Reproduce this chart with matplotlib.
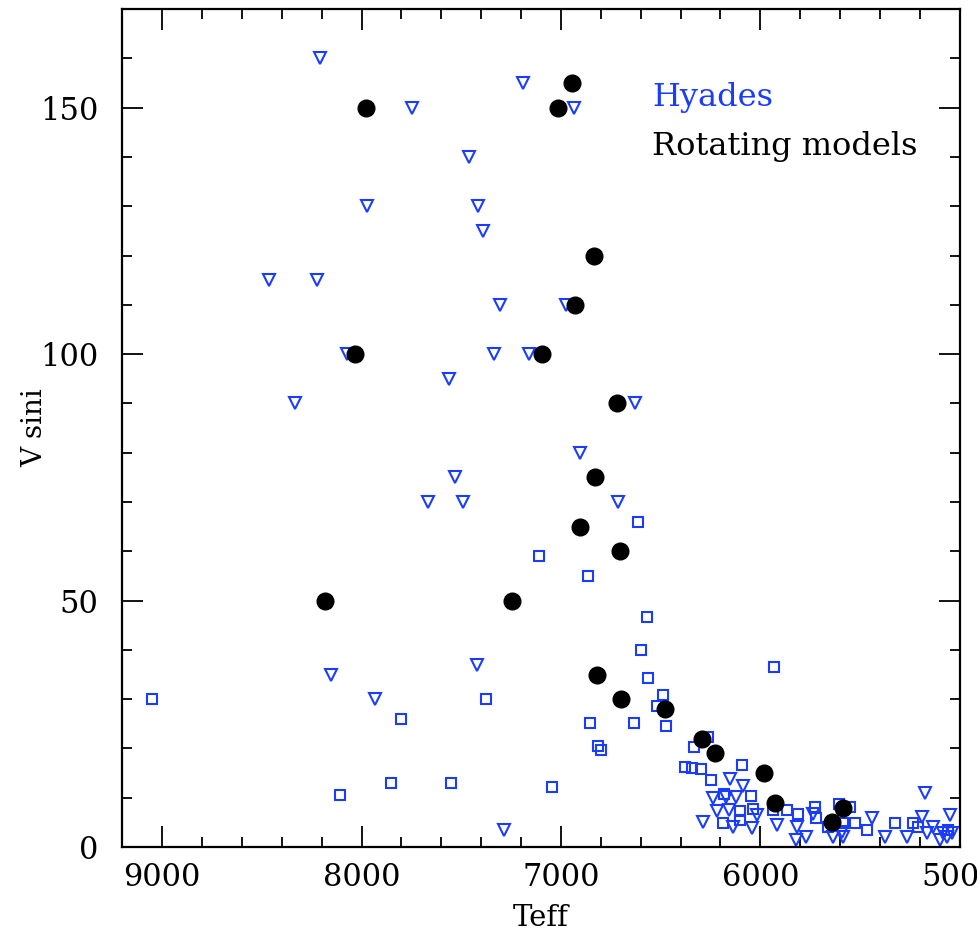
import matplotlib
matplotlib.use("Agg")
import matplotlib.pyplot as plt
from matplotlib.ticker import MultipleLocator

# Hyades stars measured as upper-limit style triangles
tri_teff = [8210, 7745, 7190, 6935, 7460, 7975, 7418, 7390, 8465, 8225,
            7308, 6975, 8075, 7335, 7158, 7560, 8333, 6630, 6902, 7530,
            7666, 7490, 6712, 8155, 7933, 7420, 7285,
            6152, 6088, 6235, 6123, 6172, 6218, 6155, 6015, 5734, 5441,
            5191, 5049, 6289, 6135, 6043, 5918, 5817, 5592, 5374, 5266,
            5166, 5132, 5082, 5821, 5771, 5634, 5583, 5099, 5065, 5040,
            5174]
tri_vsini = [160, 150, 155, 150, 140, 130, 130, 125, 115, 115,
             110, 110, 100, 100, 100, 95, 90, 90, 80, 75,
             70, 70, 70, 35, 30, 37, 3.5,
             13.9, 12.4, 9.9, 10.2, 10.2, 7.3, 7.6, 6.5, 6.8, 5.8,
             6.1, 6.5, 5.1, 4.1, 3.8, 4.5, 4.1, 3.1, 2.1, 2.1,
             2.75, 4.1, 2.75, 1.4, 1.95, 1.95, 2.1, 1.4, 2.1, 2.75,
             10.9]

# Hyades stars with measured values (squares)
sq_teff = [9050, 7800, 7375, 8110, 7850, 7552, 7045, 7110, 6611, 6862,
           6566, 6596, 5933, 6561, 6486, 6516, 6473, 6633, 6854, 6815,
           6800, 6260, 6332, 6377, 6344, 6299, 6247, 6093, 6046, 6182,
           6102, 6035, 5934, 5868, 5811, 5724, 5603, 5550, 6185, 6102,
           5720, 5659, 5583, 5525, 5466, 5324, 5207, 5232, 5057]
sq_vsini = [30, 26, 30, 10.5, 13, 13, 12.2, 59, 66, 55,
            46.7, 40, 36.5, 34.3, 30.8, 28.6, 24.6, 25.1, 25.1, 20.4,
            19.7, 22.4, 20.2, 16.3, 16.1, 15.9, 13.5, 16.7, 10.3, 10.7,
            7.3, 7.8, 7.6, 7.5, 6.7, 8.1, 8.7, 8.1, 4.8, 5.5,
            5.8, 4.1, 4.8, 4.8, 3.4, 4.9, 4.1, 4.8, 3.4]

# Rotating stellar models
mod_teff = [6945, 7980, 7015, 6832, 6927, 8035, 7095, 6717, 6827, 6902,
            6702, 8185, 7245, 6817, 6698, 6479, 6294, 6225, 5983, 5926,
            5585, 5639]
mod_vsini = [155, 150, 150, 120, 110, 100, 100, 90, 75, 65,
             60, 50, 50, 35, 30, 28, 22, 19, 15, 9,
             8, 5]

blue = "#1a3cff"
serif = ["DejaVu Serif"]

fig = plt.figure(figsize=(9.78, 9.31), dpi=100)
ax = fig.add_axes([0.125, 0.0902, 0.8563, 0.900])

ax.plot(sq_teff, sq_vsini, linestyle="none", marker="s", ms=7.5,
        mfc="none", mec=blue, mew=1.5, zorder=2)
ax.plot(tri_teff, tri_vsini, linestyle="none", marker="v", ms=9,
        mfc="none", mec=blue, mew=1.5, zorder=2)
ax.plot(mod_teff, mod_vsini, linestyle="none", marker="o", ms=12,
        mfc="black", mec="black", zorder=3)

ax.set_xlim(9200, 5000)
ax.set_ylim(0, 170)

ax.xaxis.set_major_locator(MultipleLocator(1000))
ax.xaxis.set_minor_locator(MultipleLocator(200))
ax.yaxis.set_major_locator(MultipleLocator(50))
ax.yaxis.set_minor_locator(MultipleLocator(10))

ax.tick_params(which="both", direction="in", top=True, right=True,
               width=1.3, colors="black")
ax.tick_params(which="major", length=15)
ax.tick_params(which="minor", length=7.5)
ax.tick_params(axis="x", which="major", pad=11, labelsize=22)
ax.tick_params(axis="y", which="major", pad=17, labelsize=22)
for lab in ax.get_xticklabels() + ax.get_yticklabels():
    lab.set_family(serif)

for sp in ax.spines.values():
    sp.set_linewidth(1.6)

ax.set_xlabel("Teff", fontsize=21, family=serif, va="top")
ax.xaxis.set_label_coords(0.5, -0.068)
ax.set_ylabel("V sini", fontsize=20, family=serif, va="center")
ax.yaxis.set_label_coords(-0.104, 0.5)

ax.text(0.6326, 0.894, "Hyades", transform=ax.transAxes, color=blue,
        fontsize=23, family=serif, va="center", ha="left")
ax.text(0.6326, 0.8356, "Rotating models", transform=ax.transAxes,
        color="black", fontsize=23, family=serif, va="center", ha="left")

fig.savefig("out.png", dpi=100)
